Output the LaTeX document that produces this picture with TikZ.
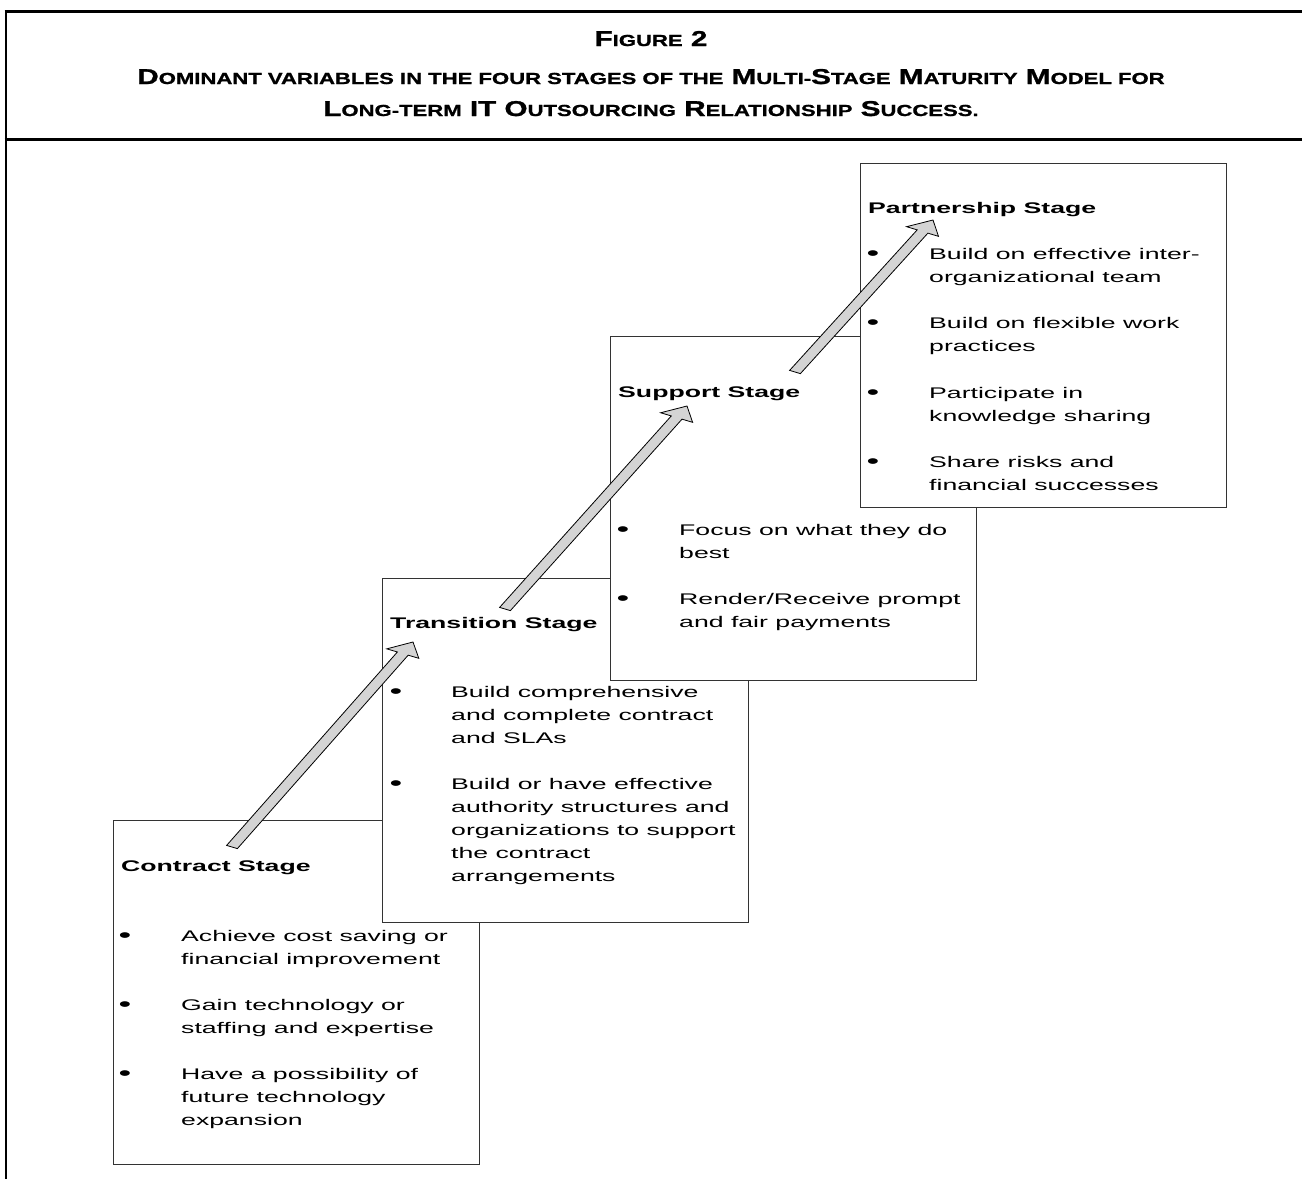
\documentclass[tikz,border=0pt]{standalone}
\usepackage{fontspec}
\setmainfont{Liberation Sans}[FakeStretch=1.73]
\newfontfamily\titlefont{Liberation Sans}[FakeStretch=1.38,FakeBold=1.2]
\usetikzlibrary{calc}
\newcommand\tstrut{\rule{0pt}{16pt}}
\newcommand\smc[1]{{\fontsize{16pt}{18pt}\selectfont #1}}
\newcommand\stretchf{1.73}
\newcommand\blockarrow[2]{%
  \path let \p1=($(#2)-(#1)$),
            \n1={atan2(\y1,\x1/\stretchf)},
            \n2={veclen(\x1/\stretchf,\y1)} in
    \pgfextra{\xdef\arrang{\n1}\xdef\arrlen{\n2}};
  \pgfmathsetmacro\arrL{\arrlen}%
  \begin{scope}[shift={(#1)}, xscale=\stretchf, rotate=\arrang]
    \draw[blockarrowstyle] (0pt,-3.5pt) -- ({\arrL pt-13pt},-3.5pt)
      -- ({\arrL pt-13pt},-10.4pt) -- ({\arrL pt},0pt)
      -- ({\arrL pt-13pt},10.4pt) -- ({\arrL pt-13pt},3.5pt)
      -- (0pt,3.5pt) -- cycle;
  \end{scope}}
\begin{document}
\begin{tikzpicture}[x=1pt,y=-1pt,
  stagebox/.style={draw=black!80, line width=0.9pt, fill=white, minimum width=366pt, minimum height=344pt, anchor=north west, inner sep=0pt},
  stagetitle/.style={anchor=base west, inner sep=0pt, font=\fontsize{15.4pt}{23pt}\selectfont\bfseries},
  itemtext/.style={anchor=north west, inner sep=0pt, align=left, font=\fontsize{15.4pt}{23pt}\selectfont},
  bul/.style={anchor=base, inner sep=0pt, yshift=-1.5pt, font=\fontsize{21pt}{23pt}\selectfont},
  titleline/.style={anchor=base, inner sep=0pt, font=\titlefont\fontsize{21.5pt}{24pt}\selectfont\bfseries},
  frameline/.style={line width=2.6pt, black},
  blockarrowstyle/.style={draw=black, line width=0.8pt, fill=black!17, line join=miter}
]
\fill[white] (0,0) rectangle (1302,1179);
\useasboundingbox (0,0) rectangle (1302,1179);

% frame
\draw[frameline] (4.7,11.5) -- (1302,11.5);
\draw[frameline] (4.7,139.5) -- (1302,139.5);
\draw[frameline] (6,10.2) -- (6,1179);

% title
\node[titleline] (fig) at (651,46) {F\smc{IGURE} 2};
\node[titleline] (cap1) at (651,84) {D\smc{OMINANT VARIABLES IN THE FOUR STAGES OF THE} M\smc{ULTI-}S\smc{TAGE} M\smc{ATURITY} M\smc{ODEL FOR}};
\node[titleline] (cap2) at (651,116) {L\smc{ONG-TERM} IT O\smc{UTSOURCING} R\smc{ELATIONSHIP} S\smc{UCCESS.}};

% Contract stage
\node[stagebox] (contract) at (113,820) {};
\node[stagetitle] (ctitle) at (121,871) {Contract Stage};
\node[bul] (cb1) at (125,941) {•};
\node[itemtext] (ct1) at (181,925) {\tstrut Achieve cost saving or\\financial improvement};
\node[bul] (cb2) at (125,1010) {•};
\node[itemtext] (ct2) at (181,994) {\tstrut Gain technology or\\staffing and expertise};
\node[bul] (cb3) at (125,1079) {•};
\node[itemtext] (ct3) at (181,1063) {\tstrut Have a possibility of\\future technology\\expansion};

% Transition stage
\node[stagebox] (transition) at (382,578) {};
\node[stagetitle] (ttitle) at (390,628) {Transition Stage};
\node[bul] (tb1) at (396,697) {•};
\node[itemtext] (tt1) at (451,681) {\tstrut Build comprehensive\\and complete contract\\and SLAs};
\node[bul] (tb2) at (396,789) {•};
\node[itemtext] (tt2) at (451,773) {\tstrut Build or have effective\\authority structures and\\organizations to support\\the contract\\arrangements};

% Support stage
\node[stagebox] (support) at (610,336) {};
\node[stagetitle] (stitle) at (618,397) {Support Stage};
\node[bul] (sb1) at (623,535) {•};
\node[itemtext] (st1) at (679,519) {\tstrut Focus on what they do\\best};
\node[bul] (sb2) at (623,604) {•};
\node[itemtext] (st2) at (679,588) {\tstrut Render/Receive prompt\\and fair payments};

% Partnership stage
\node[stagebox] (partner) at (860,163) {};
\node[stagetitle] (ptitle) at (868,213) {Partnership Stage};
\node[bul] (pb1) at (873,259) {•};
\node[itemtext] (pt1) at (929,243) {\tstrut Build on effective inter-\\organizational team};
\node[bul] (pb2) at (873,328) {•};
\node[itemtext] (pt2) at (929,312) {\tstrut Build on flexible work\\practices};
\node[bul] (pb3) at (873,398) {•};
\node[itemtext] (pt3) at (929,382) {\tstrut Participate in\\knowledge sharing};
\node[bul] (pb4) at (873,467) {•};
\node[itemtext] (pt4) at (929,451) {\tstrut Share risks and\\financial successes};

% arrows
\coordinate (a1tail) at (232,847);
\coordinate (a1tip) at (413,642);
\coordinate (a2tail) at (505,609);
\coordinate (a2tip) at (687,406);
\coordinate (a3tail) at (795,372);
\coordinate (a3tip) at (933,220);
\blockarrow{a1tail}{a1tip}
\blockarrow{a2tail}{a2tip}
\blockarrow{a3tail}{a3tip}
\end{tikzpicture}
\end{document}
